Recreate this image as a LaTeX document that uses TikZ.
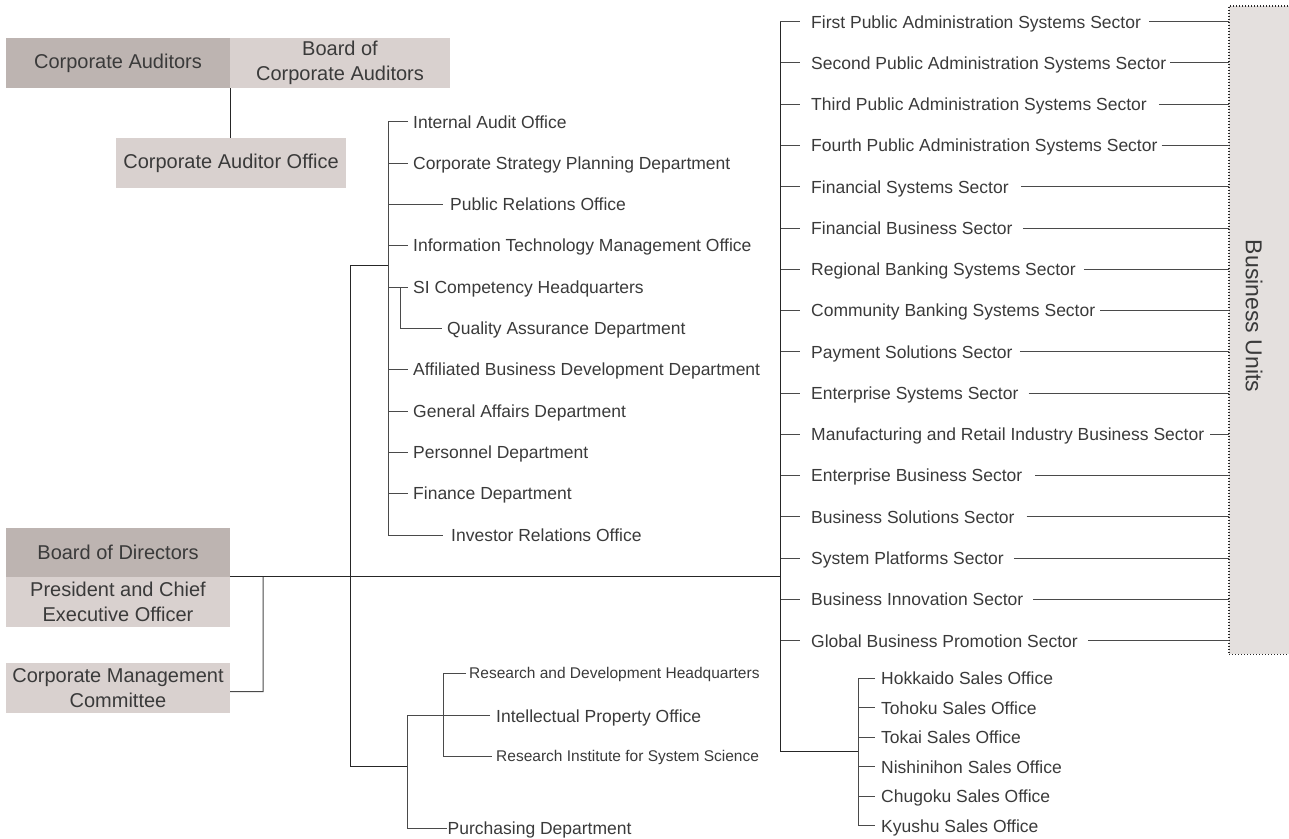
\documentclass[tikz,border=0pt]{standalone}
\usepackage{fontspec}
\setmainfont{Liberation Sans}
\definecolor{txtc}{HTML}{3A3A3A}
\definecolor{linec}{HTML}{4A4A4A}
\definecolor{darkline}{HTML}{262626}
\definecolor{boxdark}{HTML}{BDB4B1}
\definecolor{boxlight}{HTML}{D9D1CF}
\definecolor{bufill}{HTML}{E4E0DE}
\begin{document}
\begin{tikzpicture}[x=1pt,y=-1pt,
  ln/.style={draw=linec, line width=1pt},
  mainln/.style={draw=darkline, line width=1pt},
  lbl/.style={anchor=west, inner sep=0pt, text=txtc,
    font=\fontsize{17.5}{21}\selectfont, text height=14pt, text depth=1.4pt},
  lbls/.style={lbl, font=\fontsize{15.5}{19}\selectfont, text height=12.4pt, text depth=1.2pt},
  orgbox/.style={inner sep=0pt, text=txtc, align=center, minimum width=224pt,
    minimum height=50pt, font=\fontsize{20}{25}\selectfont},
  darkbox/.style={orgbox, fill=boxdark},
  lightbox/.style={orgbox, fill=boxlight},
  dotline/.style={draw=darkline, line width=1.1pt, dash pattern=on 1.1pt off 1.9pt}
]
\useasboundingbox (0,0) rectangle (1289,838);

% ---- auditors ----
\node[darkbox] (ca) at (118,63) {Corporate Auditors};
\node[lightbox, minimum width=220pt] (bca) at (340,63) {Board of\\Corporate Auditors};
\node[lightbox, minimum width=230pt] (cao) at (231,163) {Corporate Auditor Office};
\draw[mainln] (ca.south east) -- (ca.south east |- cao.north);

% ---- top management ----
\node[darkbox, minimum height=49pt] (bod) at (118,552.5) {Board of Directors};
\node[lightbox] (pres) at (118,602) {President and Chief\\Executive Officer};
\node[lightbox] (cmc) at (118,688) {Corporate Management\\Committee};

% ---- business units panel ----
\node[fill=bufill, inner sep=0pt, minimum width=80pt, minimum height=648pt,
  anchor=north west] (bu) at (1229,6) {};
\draw[dotline] (bu.north east) -- (bu.north west) -- (bu.south west) -- (bu.south east);
\node[rotate=-90, text=txtc, inner sep=0pt, font=\fontsize{23}{27}\selectfont] (but) at (1254,316) {Business Units};

% ---- junction coordinates ----
\coordinate (rv) at (780,21.7);
\coordinate (sj) at (780,751);
\coordinate (sv) at (858,678.3);
\coordinate (mv) at (388,121.7);
\coordinate (j1) at (350,265.7);
\coordinate (j2) at (350,766);
\coordinate (pv) at (407,715.7);
\coordinate (qv) at (443.3,673.3);
\coordinate (cv) at (263,577);

% ---- main trunk ----
\draw[mainln] (pres.north east) -- (rv |- pres.north east);
\draw[ln] ([yshift=-3.5pt]cmc.east) -- (cv |- 0,691.7) -- (cv);

% ---- staff departments ----
\node[lbl] (m0) at (413,121.7) {Internal Audit Office};
\node[lbl] (m1) at (413,163.0) {Corporate Strategy Planning Department};
\node[lbl] (m2) at (450,204.3) {Public Relations Office};
\node[lbl] (m3) at (413,245.6) {Information Technology Management Office};
\node[lbl] (m4) at (413,287.0) {SI Competency Headquarters};
\node[lbl] (m5) at (447,328.3) {Quality Assurance Department};
\node[lbl] (m6) at (413,369.6) {Affiliated Business Development Department};
\node[lbl] (m7) at (413,411.0) {General Affairs Department};
\node[lbl] (m8) at (413,452.3) {Personnel Department};
\node[lbl] (m9) at (413,493.6) {Finance Department};
\node[lbl] (m10) at (451,535.0) {Investor Relations Office};

\draw[ln] ([xshift=-5pt]m0.west) -- (mv |- m0.west) -- (mv |- m10.west) -- ([xshift=-8pt]m10.west);
\foreach \k in {1,3,4,6,7,8,9} {
  \draw[ln] (mv |- m\k.west) -- ([xshift=-5pt]m\k.west);
}
\draw[ln] (mv |- m2.west) -- ([xshift=-7pt]m2.west);
\draw[ln] (400,0 |- m4.west) -- (400,0 |- m5.west) -- ([xshift=-5pt]m5.west);

\draw[mainln] (mv |- j1) -- (j1) -- (j2) -- (pv |- j2);

% ---- research and purchasing ----
\node[lbls] (rd) at (469,673.3) {Research and Development Headquarters};
\node[lbl] (ip) at (496,715.7) {Intellectual Property Office};
\node[lbls] (ri) at (496,756) {Research Institute for System Science};
\node[lbl] (pd) at (447.5,828.5) {Purchasing Department};

\draw[ln] ([xshift=-6pt]ip.west) -- (pv) -- (pv |- pd.west) -- ([xshift=-1pt]pd.west);
\draw[ln] ([xshift=-3pt]rd.west) -- (qv |- rd.west) -- (qv |- ri.west) -- ([xshift=-4.5pt]ri.west);

% ---- business sectors ----
\foreach \t/\g [count=\i from 0] in {
  First Public Administration Systems Sector/8,
  Second Public Administration Systems Sector/4,
  Third Public Administration Systems Sector/12,
  Fourth Public Administration Systems Sector/4,
  Financial Systems Sector/12,
  Financial Business Sector/10,
  Regional Banking Systems Sector/8,
  Community Banking Systems Sector/5,
  Payment Solutions Sector/7,
  Enterprise Systems Sector/10,
  Manufacturing and Retail Industry Business Sector/6,
  Enterprise Business Sector/13,
  Business Solutions Sector/12,
  System Platforms Sector/10,
  Business Innovation Sector/10,
  Global Business Promotion Sector/10} {
  \node[lbl] (s\i) at (811,{21.7+41.27*\i}) {\t};
  \draw[ln] (rv |- s\i.west) -- ([xshift=-11pt]s\i.west);
  \draw[ln] ([xshift=\g pt]s\i.east) -- (bu.west |- s\i.east);
}
\draw[mainln] (rv |- s0.west) -- (sj) -- (sv |- sj);

% ---- sales offices ----
\foreach \t [count=\i from 0] in {Hokkaido Sales Office, Tohoku Sales Office,
  Tokai Sales Office, Nishinihon Sales Office, Chugoku Sales Office, Kyushu Sales Office} {
  \node[lbl] (o\i) at (881,{678.3+29.5*\i}) {\t};
}
\draw[ln] ([xshift=-6pt]o0.west) -- (sv |- o0.west) -- (sv |- o5.west) -- ([xshift=-6pt]o5.west);
\foreach \i in {1,...,4} {
  \draw[ln] (sv |- o\i.west) -- ([xshift=-6pt]o\i.west);
}
\end{tikzpicture}
\end{document}
